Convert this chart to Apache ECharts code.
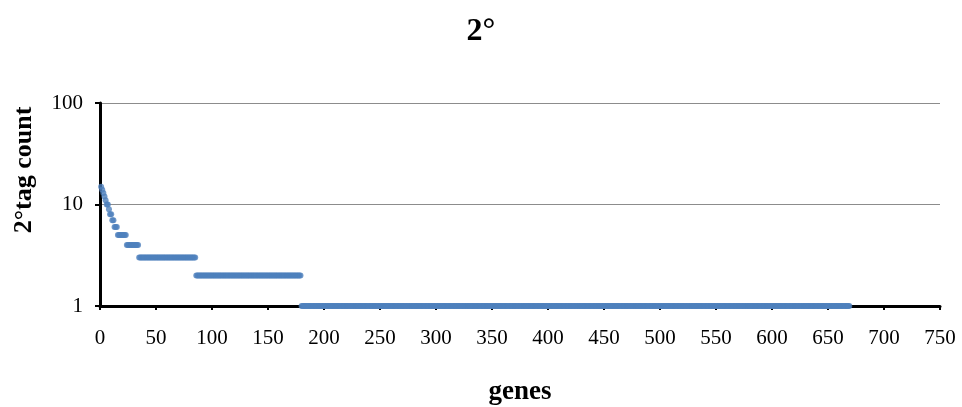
<!DOCTYPE html>
<html><head><meta charset="utf-8">
<script src="https://cdn.jsdelivr.net/npm/echarts@6/dist/echarts.min.js"></script>
<style>html,body{margin:0;padding:0;background:#fff}#c{width:962px;height:407px}</style>
</head><body><div id="c"></div>
<script>
// tag count values and how many genes (consecutive ranks) have each value
var tagValues  = [15, 14, 13, 12, 11, 10, 9, 8, 7, 6, 5, 4, 3, 2, 1];
var geneCounts = [1, 1, 1, 1, 1, 2, 1, 2, 2, 3, 8, 11, 51, 94, 490];
var xTicks = [0,50,100,150,200,250,300,350,400,450,500,550,600,650,700,750];
var yTicks = [1, 10, 100];

var points = [];
var rank = 1;
for (var i = 0; i < tagValues.length; i++) {
  for (var k = 0; k < geneCounts[i]; k++) { points.push([rank, tagValues[i]]); rank++; }
}
var font = 'Liberation Serif';
var chart = echarts.init(document.getElementById('c'));
chart.setOption({
  animation: false,
  title: { text: '2°', left: 'center', top: 11, textStyle: { fontFamily: font, fontSize: 32, fontWeight: 'bold', color: '#000' } },
  grid: { left: 100, right: 22, top: 103, bottom: 101, containLabel: false, outerBoundsMode: 'none' },
  graphic: [{
    type: 'text', x: 24, y: 170, rotation: Math.PI / 2,
    style: { text: '2°tag count', fontFamily: font, fontSize: 26, fontWeight: 'bold', fill: '#000', align: 'center', verticalAlign: 'middle' }
  }],
  xAxis: {
    type: 'value', min: xTicks[0], max: xTicks[xTicks.length-1], interval: 50,
    name: 'genes', nameLocation: 'middle', nameGap: 73,
    nameTextStyle: { fontFamily: font, fontSize: 27, fontWeight: 'bold', color: '#000' },
    axisLine: { lineStyle: { color: '#000', width: 3 } },
    axisTick: { show: true, length: 4, lineStyle: { color: '#000', width: 2 } },
    axisLabel: { fontFamily: font, fontSize: 21, color: '#000', margin: 22, hideOverlap: false },
    splitLine: { show: false }
  },
  yAxis: {
    type: 'log', logBase: 10, min: yTicks[0], max: yTicks[yTicks.length-1],
    axisLine: { show: true, lineStyle: { color: '#000', width: 3 } },
    axisTick: { show: true, length: 5, lineStyle: { color: '#000', width: 2 } },
    axisLabel: { fontFamily: font, fontSize: 21, color: '#000', margin: 17 },
    splitLine: { show: true, lineStyle: { color: '#8c8c8c', width: 1 } }
  },
  series: [{
    type: 'scatter', data: points, symbol: 'circle', symbolSize: 6, clip: false,
    itemStyle: { color: '#4F81BD' }
  }]
});
</script></body></html>
